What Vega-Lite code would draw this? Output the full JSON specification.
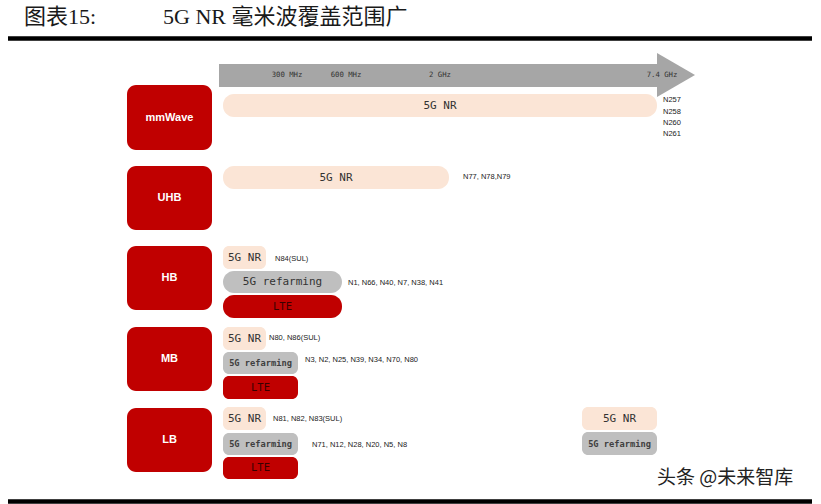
{
  "$schema": "https://vega.github.io/schema/vega-lite/v6.json",
  "width": 821,
  "height": 504,
  "autosize": {"type": "fit", "contains": "padding"},
  "padding": 0,
  "background": "white",
  "config": {"view": {"stroke": null}},
  "encoding": {
    "x": {"field": "x", "type": "quantitative", "scale": {"domain": [0, 821], "nice": false, "zero": false}, "axis": null},
    "y": {"field": "y", "type": "quantitative", "scale": {"domain": [0, 504], "nice": false, "zero": false, "reverse": true}, "axis": null}
  },
  "layer": [
    {
      "data": {"values": [
        {"x": 8, "x2": 812, "y": 38.5},
        {"x": 8, "x2": 812, "y": 501.5}
      ]},
      "mark": {"type": "rule", "color": "black", "strokeWidth": 4.5},
      "encoding": {"x2": {"field": "x2"}}
    },
    {
      "data": {"values": [
        {"x": 219, "x2": 657, "y": 64, "y2": 87}
      ]},
      "mark": {"type": "rect", "color": "#a6a6a6"},
      "encoding": {"x2": {"field": "x2"}, "y2": {"field": "y2"}}
    },
    {
      "data": {"values": [
        {"x": 657, "y": 53, "y2": 97},
        {"x": 695, "y": 75, "y2": 75}
      ]},
      "mark": {"type": "area", "orient": "vertical", "color": "#a6a6a6"},
      "encoding": {"y2": {"field": "y2"}}
    },
    {
      "data": {"values": [
        {"band": "mmWave", "x": 127, "x2": 212, "y": 85, "y2": 150},
        {"band": "UHB", "x": 127, "x2": 212, "y": 166, "y2": 230},
        {"band": "HB", "x": 127, "x2": 212, "y": 246, "y2": 310},
        {"band": "MB", "x": 127, "x2": 212, "y": 327, "y2": 391},
        {"band": "LB", "x": 127, "x2": 212, "y": 408, "y2": 472}
      ]},
      "mark": {"type": "rect", "color": "#c00000", "cornerRadius": 9},
      "encoding": {"x2": {"field": "x2"}, "y2": {"field": "y2"}}
    },
    {
      "data": {"values": [
        {"band": "mmWave", "kind": "nr", "x": 223, "x2": 657, "y": 94, "y2": 117},
        {"band": "UHB", "kind": "nr", "x": 223, "x2": 449, "y": 166, "y2": 189},
        {"band": "HB", "kind": "nr", "x": 223, "x2": 266, "y": 246, "y2": 269},
        {"band": "HB", "kind": "refarming", "x": 223, "x2": 342, "y": 271, "y2": 293},
        {"band": "HB", "kind": "lte", "x": 223, "x2": 342, "y": 295, "y2": 318},
        {"band": "MB", "kind": "nr", "x": 223, "x2": 266, "y": 327, "y2": 350},
        {"band": "MB", "kind": "refarming", "x": 223, "x2": 298, "y": 352, "y2": 374},
        {"band": "MB", "kind": "lte", "x": 223, "x2": 298, "y": 376, "y2": 399},
        {"band": "LB", "kind": "nr", "x": 223, "x2": 266, "y": 407, "y2": 430},
        {"band": "LB", "kind": "refarming", "x": 223, "x2": 298, "y": 433, "y2": 455},
        {"band": "LB", "kind": "lte", "x": 223, "x2": 298, "y": 457, "y2": 479},
        {"band": "LB", "kind": "nr", "x": 582, "x2": 657, "y": 407, "y2": 430},
        {"band": "LB", "kind": "refarming", "x": 582, "x2": 657, "y": 432, "y2": 455}
      ]},
      "mark": {"type": "rect", "cornerRadius": {"expr": "datum.x2 - datum.x > 100 ? 11 : 6"}},
      "encoding": {
        "x2": {"field": "x2"},
        "y2": {"field": "y2"},
        "color": {
          "field": "kind", "type": "nominal",
          "scale": {"domain": ["nr", "refarming", "lte"], "range": ["#fbe5d6", "#bfbfbf", "#c00000"]},
          "legend": null
        }
      }
    },
    {
      "data": {"values": [
        {"label": "mmWave", "x": 169.5, "y": 118},
        {"label": "UHB", "x": 169.5, "y": 198},
        {"label": "HB", "x": 169.5, "y": 278},
        {"label": "MB", "x": 169.5, "y": 359},
        {"label": "LB", "x": 169.5, "y": 440}
      ]},
      "mark": {"type": "text", "color": "white", "font": "Liberation Sans", "fontSize": 11, "fontWeight": "bold", "align": "center", "baseline": "middle"},
      "encoding": {"text": {"field": "label"}}
    },
    {
      "data": {"values": [
        {"label": "5G NR", "x": 440, "y": 106},
        {"label": "5G NR", "x": 336, "y": 178},
        {"label": "5G NR", "x": 244.5, "y": 258},
        {"label": "5G refarming", "x": 282.5, "y": 282},
        {"label": "5G NR", "x": 244.5, "y": 339},
        {"label": "5G NR", "x": 244.5, "y": 419},
        {"label": "5G NR", "x": 619.5, "y": 419}
      ]},
      "mark": {"type": "text", "color": "#333333", "font": "DejaVu Sans Mono", "fontSize": 11, "align": "center", "baseline": "middle"},
      "encoding": {"text": {"field": "label"}}
    },
    {
      "data": {"values": [
        {"label": "5G refarming", "x": 260.5, "y": 363},
        {"label": "5G refarming", "x": 260.5, "y": 444},
        {"label": "5G refarming", "x": 619.5, "y": 444}
      ]},
      "mark": {"type": "text", "color": "#404040", "font": "DejaVu Sans Mono", "fontSize": 8.7, "fontWeight": "bold", "align": "center", "baseline": "middle"},
      "encoding": {"text": {"field": "label"}}
    },
    {
      "data": {"values": [
        {"label": "LTE", "x": 282.5, "y": 307},
        {"label": "LTE", "x": 260.5, "y": 388},
        {"label": "LTE", "x": 260.5, "y": 468}
      ]},
      "mark": {"type": "text", "color": "#3a0000", "font": "DejaVu Sans Mono", "fontSize": 10.5, "align": "center", "baseline": "middle"},
      "encoding": {"text": {"field": "label"}}
    },
    {
      "data": {"values": [
        {"label": "N84(SUL)", "x": 275, "y": 259},
        {"label": "N1, N66, N40, N7, N38, N41", "x": 348, "y": 283},
        {"label": "N80, N86(SUL)", "x": 269, "y": 338},
        {"label": "N3, N2, N25, N39, N34, N70, N80", "x": 305, "y": 360},
        {"label": "N81, N82, N83(SUL)", "x": 273, "y": 419},
        {"label": "N71, N12, N28, N20, N5, N8", "x": 312, "y": 445},
        {"label": "N77, N78,N79", "x": 463, "y": 177},
        {"label": "N257", "x": 663, "y": 100},
        {"label": "N258", "x": 663, "y": 112},
        {"label": "N260", "x": 663, "y": 123},
        {"label": "N261", "x": 663, "y": 134}
      ]},
      "mark": {"type": "text", "color": "#222222", "font": "Liberation Sans", "fontSize": 7.5, "align": "left", "baseline": "middle"},
      "encoding": {"text": {"field": "label"}}
    },
    {
      "data": {"values": [
        {"label": "300 MHz", "x": 287, "y": 75},
        {"label": "600 MHz", "x": 346, "y": 75},
        {"label": "2 GHz", "x": 440, "y": 75},
        {"label": "7.4 GHz", "x": 662, "y": 75}
      ]},
      "mark": {"type": "text", "color": "#333333", "font": "DejaVu Sans Mono", "fontSize": 7.3, "align": "center", "baseline": "middle"},
      "encoding": {"text": {"field": "label"}}
    },
    {
      "data": {"values": [
        {"label": "图表15:", "x": 24, "y": 17},
        {"label": "5G NR 毫米波覆盖范围广", "x": 163, "y": 17}
      ]},
      "mark": {"type": "text", "color": "#1a1a1a", "font": "Liberation Serif, Noto Sans CJK SC", "fontSize": 22, "align": "left", "baseline": "middle"},
      "encoding": {"text": {"field": "label"}}
    },
    {
      "data": {"values": [
        {"label": "头条 @未来智库", "x": 657, "y": 478}
      ]},
      "mark": {"type": "text", "color": "#222222", "font": "Noto Sans CJK SC", "fontSize": 19, "align": "left", "baseline": "middle"},
      "encoding": {"text": {"field": "label"}}
    }
  ]
}
